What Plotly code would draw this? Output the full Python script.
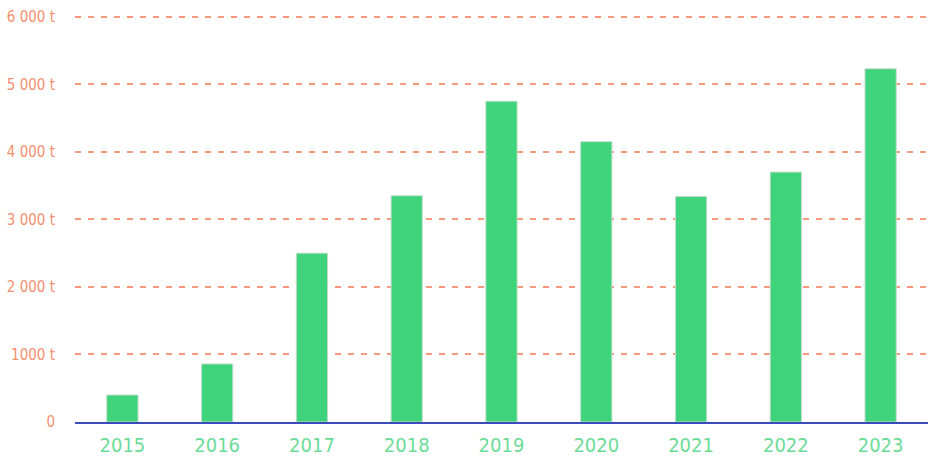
import plotly.graph_objects as go

# yearly totals, in tonnes
years = ["2015", "2016", "2017", "2018", "2019", "2020", "2021", "2022", "2023"]
tonnes = [400, 860, 2500, 3350, 4750, 4150, 3340, 3700, 5230]

# y tick values and their labels
y_ticks = [0, 1000, 2000, 3000, 4000, 5000, 6000]
y_labels = ["0", "1000 t", "2 000 t", "3 000 t", "4 000 t", "5 000 t", "6 000 t"]

FONT = "DejaVu Sans Condensed, DejaVu Sans, sans-serif"

fig = go.Figure()

fig.add_trace(
    go.Bar(
        x=years,
        y=tonnes,
        marker=dict(color="#3fd47b", line=dict(color="#c4dccd", width=1)),
        hovertemplate="%{x}: %{y} t<extra></extra>",
        showlegend=False,
    )
)

fig.update_layout(
    width=928,
    height=456,
    margin=dict(l=75, r=0, t=10, b=34),
    paper_bgcolor="white",
    plot_bgcolor="white",
    bargap=0.67,
    font=dict(family=FONT),
    xaxis=dict(
        type="category",
        automargin=False,
        showgrid=False,
        showline=True,
        linecolor="#3a4cbc",
        linewidth=2,
        ticks="",
        tickfont=dict(size=20, color="#6cdb98", family=FONT),
        ticklabelstandoff=4,
    ),
    yaxis=dict(
        range=[0, 6100],
        automargin=False,
        tickmode="array",
        tickvals=y_ticks,
        ticktext=y_labels,
        showgrid=True,
        gridcolor="#f59a7c",
        gridwidth=1.5,
        griddash="6px,7px",
        zeroline=False,
        showline=False,
        ticks="",
        tickfont=dict(size=15, color="#f3906f", family=FONT),
        ticklabelstandoff=19,
    ),
)

# drop the page's default body margin so the figure sits at the window corner
fig.write_html(
    "out.html",
    config={"displayModeBar": False},
    post_script="document.body.style.margin='0';",
)
